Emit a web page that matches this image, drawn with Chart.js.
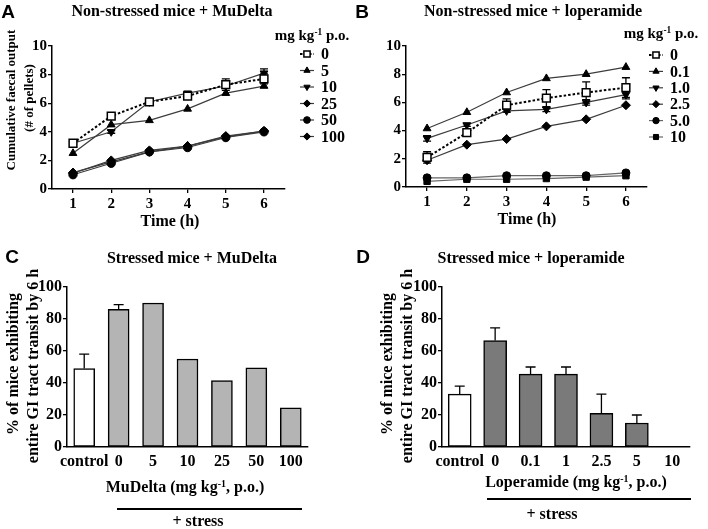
<!DOCTYPE html>
<html><head><meta charset="utf-8">
<script src="https://cdn.jsdelivr.net/npm/chart.js@4.4.1/dist/chart.umd.min.js"></script>
<style>
html,body{margin:0;padding:0;background:#fff;}
#wrap{position:relative;width:708px;height:529px;overflow:hidden;font-family:"Liberation Serif","Times New Roman",serif;font-weight:bold;color:#000;}
canvas{position:absolute;}
.t{position:absolute;white-space:nowrap;transform:translate(-50%,-50%);line-height:1;}
.r{transform:translate(-50%,-50%) rotate(-90deg);}
.L{position:absolute;font-family:"Liberation Sans",Arial,sans-serif;font-weight:bold;font-size:19px;line-height:1;transform:translate(-50%,-50%);}
.hl{position:absolute;height:2px;background:#000;}
sup{font-size:0.62em;vertical-align:0.5em;line-height:0;}
</style></head>
<body><div id="wrap">
<canvas id="cA" width="354" height="264" style="left:0;top:0"></canvas>
<canvas id="cB" width="354" height="264" style="left:354px;top:0"></canvas>
<canvas id="cC" width="354" height="265" style="left:0;top:264px"></canvas>
<canvas id="cD" width="354" height="265" style="left:354px;top:264px"></canvas>

<div class="L" style="left:8px;top:11px">A</div>
<div class="L" style="left:362px;top:11px">B</div>
<div class="L" style="left:12px;top:256px">C</div>
<div class="L" style="left:363px;top:256px">D</div>

<div class="t" style="left:172px;top:11px;font-size:16px">Non-stressed mice + MuDelta</div>
<div class="t" style="left:533px;top:11px;font-size:16px">Non-stressed mice + loperamide</div>
<div class="t" style="left:192px;top:258px;font-size:16px">Stressed mice + MuDelta</div>
<div class="t" style="left:531px;top:258px;font-size:16px">Stressed mice + loperamide</div>

<div class="t r" style="left:10px;top:100px;font-size:13px">Cumulative faecal output</div>
<div class="t r" style="left:28px;top:98px;font-size:13px">(# of pellets)</div>
<div class="t r" style="left:13px;top:364px;font-size:16px">% of mice exhibiting</div>
<div class="t r" style="left:33px;top:366px;font-size:16px">entire GI tract transit by 6 h</div>
<div class="t r" style="left:387px;top:364px;font-size:16px">% of mice exhibiting</div>
<div class="t r" style="left:407px;top:366px;font-size:16px">entire GI tract transit by 6 h</div>

<div class="t" style="left:312px;top:35px;font-size:15px">mg kg<sup>-1</sup> p.o.</div>
<div class="t" style="left:661px;top:33px;font-size:15px">mg kg<sup>-1</sup> p.o.</div>

<div class="t" style="left:170px;top:221px;font-size:16px">Time (h)</div>
<div class="t" style="left:527px;top:219px;font-size:16px">Time (h)</div>
<div class="t" style="left:185px;top:487px;font-size:16px">MuDelta (mg kg<sup>-1</sup>, p.o.)</div>
<div class="t" style="left:576px;top:482px;font-size:16px">Loperamide (mg kg<sup>-1</sup>, p.o.)</div>

<div class="hl" style="left:117px;top:508px;width:185px"></div>
<div class="t" style="left:198px;top:521px;font-size:16px">+ stress</div>
<div class="hl" style="left:487px;top:498px;width:204px"></div>
<div class="t" style="left:552px;top:514px;font-size:16px">+ stress</div>
</div>
<script>
// ---------- data ----------
const timeHours = [1, 2, 3, 4, 5, 6];
const yTicksLine = [0, 2, 4, 6, 8, 10];
const yTicksBar = [0, 20, 40, 60, 80, 100];

const dosesA = ['0', '5', '10', '25', '50', '100'];
const muDelta0 = [3.2, 5.1, 6.1, 6.5, 7.3, 7.7];
const muDelta0Err = [0.15, 0.2, 0.15, 0.2, 0.4, 0.35];
const muDelta5 = [2.5, 4.5, 4.8, 5.6, 6.7, 7.2];
const muDelta10 = [3.2, 4.0, 6.1, 6.7, 7.2, 8.1];
const muDelta10Err = [0.1, 0.1, 0.1, 0.1, 0.15, 0.3];
const muDelta25 = [1.1, 2.0, 2.7, 3.0, 3.7, 4.05];
const muDelta50 = [1.0, 1.8, 2.6, 2.9, 3.6, 4.0];
const muDelta100 = [1.15, 1.9, 2.6, 3.0, 3.65, 4.05];

const dosesB = ['0', '0.1', '1.0', '2.5', '5.0', '10'];
const lop0 = [2.1, 3.85, 5.8, 6.3, 6.7, 7.05];
const lop0Err = [0.4, 0.2, 0.45, 0.6, 0.75, 0.7];
const lop01 = [4.15, 5.3, 6.7, 7.7, 8.0, 8.5];
const lop1 = [3.45, 4.4, 5.4, 5.5, 6.0, 6.55];
const lop1Err = [0.2, 0.1, 0.1, 0.15, 0.2, 0.3];
const lop25 = [1.9, 3.0, 3.4, 4.3, 4.8, 5.8];
const lop5 = [0.65, 0.65, 0.8, 0.8, 0.8, 1.0];
const lop10 = [0.4, 0.55, 0.55, 0.6, 0.7, 0.8];

const catsC = ['control', '0', '5', '10', '25', '50', '100'];
const transitC = [49, 86, 90, 55, 41.5, 49.5, 24.5];
const transitCErr = [9, 3, 0, 0, 0, 0, 0];
const catsD = ['control', '0', '0.1', '1', '2.5', '5', '10'];
const transitD = [33, 66.5, 45.5, 45.5, 21, 15, 0];
const transitDErr = [5, 8, 4.5, 4.5, 12, 5, 0];

// ---------- helpers ----------
const SERIF = '"Liberation Serif", "Times New Roman", serif';
const LINE_COLOR = '#3c3c3c';

const errorBars = {
  id: 'errorBars',
  beforeDatasetsDraw(chart) { if (chart.config.type === 'line') draw(chart); },
  afterDatasetsDraw(chart) { if (chart.config.type === 'bar') draw(chart); }
};
function draw(chart) {
  const ctx = chart.ctx, ys = chart.scales.y;
  chart.data.datasets.forEach((ds, i) => {
    if (!ds.errors) return;
    const meta = chart.getDatasetMeta(i);
    ctx.save();
    ctx.strokeStyle = '#000'; ctx.lineWidth = 1.3; ctx.setLineDash([]);
    meta.data.forEach((el, j) => {
      const e = ds.errors[j]; if (!e) return;
      const d = ds.data[j];
      const v = (typeof d === 'object') ? d.y : d;
      const x = el.x, cap = ds.errCap || 4;
      const yTop = ys.getPixelForValue(v + e);
      const yBot = ds.errBoth ? ys.getPixelForValue(v - e) : ys.getPixelForValue(v);
      ctx.beginPath();
      ctx.moveTo(x, yBot); ctx.lineTo(x, yTop);
      ctx.moveTo(x - cap, yTop); ctx.lineTo(x + cap, yTop);
      if (ds.errBoth) { ctx.moveTo(x - cap, yBot); ctx.lineTo(x + cap, yBot); }
      ctx.stroke();
    });
    ctx.restore();
  });
}

const sideLegend = {
  id: 'sideLegend',
  afterDraw(chart, args, o) {
    if (!o || o.x === undefined) return;
    const ctx = chart.ctx;
    ctx.save();
    chart.data.datasets.forEach((ds, i) => {
      const y = o.top + i * o.step;
      ctx.strokeStyle = ds.borderColor; ctx.lineWidth = ds.borderWidth;
      ctx.setLineDash(ds.borderDash || []);
      ctx.beginPath(); ctx.moveTo(o.x - 7, y); ctx.lineTo(o.x + 7, y); ctx.stroke();
      ctx.setLineDash([]);
      ctx.fillStyle = ds.pointBackgroundColor; ctx.strokeStyle = ds.pointBorderColor;
      ctx.lineWidth = ds.pointBorderWidth;
      Chart.helpers.drawPoint(ctx, {pointStyle: ds.pointStyle, rotation: ds.pointRotation || 0,
        radius: ds.pointRadius * 0.8, borderWidth: ds.pointBorderWidth}, o.x, y);
      ctx.fillStyle = '#000'; ctx.font = 'bold ' + o.fontSize + 'px ' + SERIF;
      ctx.textBaseline = 'middle'; ctx.textAlign = 'left';
      ctx.fillText(ds.label, o.textX, y + 1);
    });
    ctx.restore();
  }
};

function series(label, values, pointStyle, extra) {
  return Object.assign({
    label, pointStyle,
    data: values.map((v, i) => ({x: timeHours[i], y: v})),
    borderColor: LINE_COLOR, borderWidth: 1.2,
    pointBackgroundColor: '#000', pointBorderColor: '#000', pointBorderWidth: 1,
    pointRadius: 4.5, tension: 0, fill: false
  }, extra || {});
}
const dotted = {borderColor: '#000', borderWidth: 2, borderDash: [2.5, 2],
  pointBackgroundColor: '#fff', pointRadius: 5.5, pointBorderWidth: 1.5, errBoth: true, errCap: 4};

function axisCommon(size) {
  return {
    grid: {display: true, drawOnChartArea: false, drawTicks: true, tickLength: 4, color: '#000', lineWidth: 1.3},
    border: {display: true, color: '#000', width: 1.5},
    ticks: {color: '#000', font: {family: SERIF, weight: 'bold', size: size}, autoSkip: false, maxRotation: 0}
  };
}
function lineOptions(xmin, xmax, yW, xH, pad, legend) {
  const x = axisCommon(15), y = axisCommon(15);
  x.type = 'linear'; x.min = xmin; x.max = xmax;
  x.afterBuildTicks = s => { s.ticks = timeHours.map(v => ({value: v})); };
  x.afterFit = s => { s.height = xH; };
  x.ticks.padding = 2;
  y.min = 0; y.max = 10;
  y.afterBuildTicks = s => { s.ticks = yTicksLine.map(v => ({value: v})); };
  y.afterFit = s => { s.width = yW; };
  y.ticks.padding = 1;
  return {
    responsive: false, animation: false, events: [],
    layout: {padding: pad},
    scales: {x, y},
    plugins: {legend: {display: false}, tooltip: {enabled: false}, sideLegend: legend}
  };
}
function barOptions(yW, xH, pad) {
  const x = axisCommon(16), y = axisCommon(16);
  x.grid.drawTicks = false; x.grid.display = false;
  x.afterFit = s => { s.height = xH; };
  x.ticks.padding = 5;
  y.min = 0; y.max = 100;
  y.afterBuildTicks = s => { s.ticks = yTicksBar.map(v => ({value: v})); };
  y.afterFit = s => { s.width = yW; };
  y.ticks.padding = 1;
  return {
    responsive: false, animation: false, events: [],
    layout: {padding: pad},
    scales: {x, y},
    plugins: {legend: {display: false}, tooltip: {enabled: false}}
  };
}

// ---------- panel A ----------
new Chart(document.getElementById('cA'), {
  type: 'line',
  data: {datasets: [
    series(dosesA[0], muDelta0, 'rect', Object.assign({errors: muDelta0Err}, dotted)),
    series(dosesA[1], muDelta5, 'triangle'),
    series(dosesA[2], muDelta10, 'triangle', {pointRotation: 180, errors: muDelta10Err, errBoth: true}),
    series(dosesA[3], muDelta25, 'rectRot'),
    series(dosesA[4], muDelta50, 'circle', {pointRadius: 4.2}),
    series(dosesA[5], muDelta100, 'rectRot')
  ]},
  options: lineOptions(0.45, 6.55, 52, 30, {left: 0, top: 46, right: 69, bottom: 45},
    {x: 307, textX: 321, top: 54, step: 16.5, fontSize: 16}),
  plugins: [errorBars, sideLegend]
});

// ---------- panel B ----------
new Chart(document.getElementById('cB'), {
  type: 'line',
  data: {datasets: [
    series(dosesB[0], lop0, 'rect', Object.assign({errors: lop0Err}, dotted)),
    series(dosesB[1], lop01, 'triangle'),
    series(dosesB[2], lop1, 'triangle', {pointRotation: 180, errors: lop1Err, errBoth: true}),
    series(dosesB[3], lop25, 'rectRot'),
    series(dosesB[4], lop5, 'circle', {pointRadius: 4, borderColor: '#666'}),
    series(dosesB[5], lop10, 'rect', {pointRadius: 4.5, borderColor: '#666'})
  ]},
  options: lineOptions(0.47, 6.53, 52, 30, {left: 0, top: 46, right: 61, bottom: 47},
    {x: 302, textX: 316, top: 55, step: 16.4, fontSize: 16}),
  plugins: [errorBars, sideLegend]
});

// ---------- panel C ----------
new Chart(document.getElementById('cC'), {
  type: 'bar',
  data: {labels: catsC, datasets: [{
    data: transitC, errors: transitCErr, errCap: 5,
    backgroundColor: catsC.map((c, i) => i === 0 ? '#ffffff' : '#b4b4b4'),
    borderColor: '#000', borderWidth: 1.5, borderSkipped: false, barThickness: 21
  }]},
  options: barOptions(67, 30, {left: 0, top: 23, right: 46, bottom: 52}),
  plugins: [errorBars]
});

// ---------- panel D ----------
new Chart(document.getElementById('cD'), {
  type: 'bar',
  data: {labels: catsD, datasets: [{
    data: transitD, errors: transitDErr, errCap: 5,
    backgroundColor: catsD.map((c, i) => i === 0 ? '#ffffff' : '#7a7a7a'),
    borderColor: '#000', borderWidth: 1.5, borderSkipped: false, barThickness: 23
  }]},
  options: barOptions(88, 30, {left: 0, top: 23, right: 18, bottom: 52}),
  plugins: [errorBars]
});
</script>
</body></html>
